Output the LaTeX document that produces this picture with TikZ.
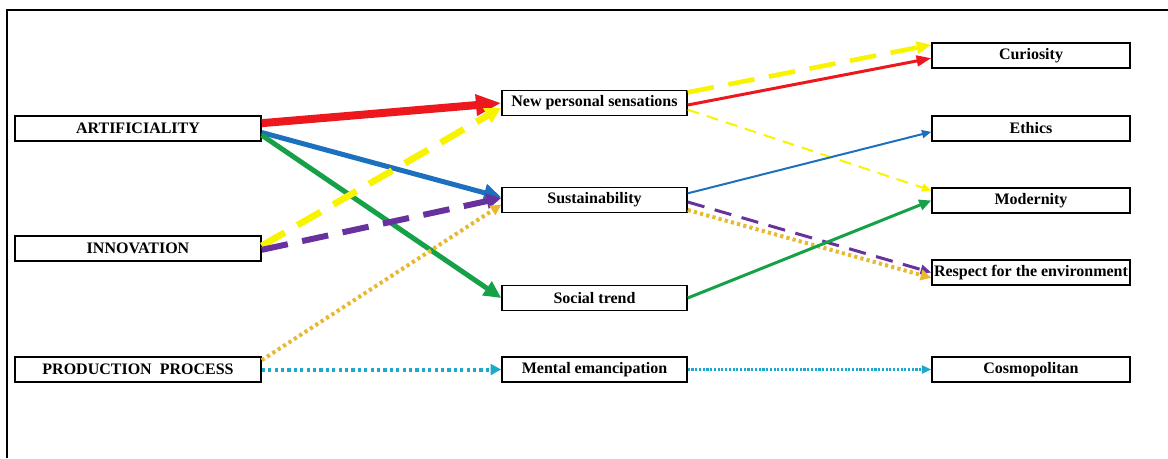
\documentclass[tikz,border=0pt]{standalone}
\usepackage{fontspec}
\setmainfont{Liberation Serif}
\usetikzlibrary{arrows.meta}

\definecolor{linkred}{RGB}{236,24,30}
\definecolor{linkblue}{RGB}{28,112,190}
\definecolor{linkgreen}{RGB}{22,160,72}
\definecolor{linkyellow}{RGB}{248,244,0}
\definecolor{linkpurple}{RGB}{104,50,158}
\definecolor{linkgold}{RGB}{232,184,48}
\definecolor{linkcyan}{RGB}{30,168,204}

\begin{document}
\begin{tikzpicture}[x=0.75pt,y=-0.75pt]
	% Setup the style for the boxes
	\tikzset{box style/.style={draw, line width=1.1pt,
			minimum height=18.75pt, inner sep=1pt,
			font=\bfseries\fontsize{12}{12}\selectfont},
		left box/.style={box style, minimum width=184.5pt},
		mid box/.style={box style, minimum width=138.75pt},
		right box/.style={box style, minimum width=148.5pt},
		tip/.style 2 args={-{Triangle[length=#1, width=#2]}},
		dash link/.style={dash pattern=on 20pt off 11pt},
		dot link/.style={dash pattern=on 2.4pt off 2.4pt}}
	
	\useasboundingbox (0,0) rectangle (1168,458);
	\draw[line width=1.1pt] (7,458) -- (7,10) -- (1168,10);
	
	\node[left box]  (a1) at (138,128.5)  {ARTIFICIALITY};
	\node[left box]  (a2) at (138,248.5)  {INNOVATION};
	\node[left box]  (a3) at (138,369.5)  {PRODUCTION\ \ PROCESS};
	
	\node[mid box]   (b1) at (594.5,103)  {New personal sensations};
	\node[mid box]   (b2) at (594.5,200)  {Sustainability};
	\node[mid box]   (b3) at (594.5,298)  {Social trend};
	\node[mid box]   (b4) at (594.5,369.5) {Mental emancipation};
	
	\node[right box] (c1) at (1031,55.5)  {Curiosity};
	\node[right box] (c2) at (1031,128.5) {Ethics};
	\node[right box] (c3) at (1031,200.5) {Modernity};
	\node[right box] (c4) at (1031,272.5) {Respect for the environment};
	\node[right box] (c5) at (1031,369.5) {Cosmopolitan};
	
	% first step
	\draw
	([yshift=4pt]a1.east)   edge[linkred, line width=6pt, tip={19pt}{15pt}]     (b1.west)
	([yshift=-3pt]a1.east)  edge[linkblue, line width=3.75pt, tip={13pt}{13pt}] ([yshift=2pt]b2.west)
	([yshift=-5pt]a1.east)  edge[linkgreen, line width=3.75pt, tip={13pt}{12pt}] (b3.west)
	([yshift=2pt]a2.east)   edge[linkyellow, line width=5pt, dash link, tip={12pt}{12pt}] ([yshift=-3.5pt]b1.west)
	([yshift=-1pt]a2.east)  edge[linkpurple, line width=4.5pt, dash link, tip={11pt}{11pt}] ([yshift=1.5pt]b2.west)
	([yshift=7pt]a3.east)   edge[linkgold, line width=3pt, dot link, tip={8pt}{8pt}] ([yshift=-3.5pt]b2.west)
	(a3.east)               edge[linkcyan, line width=3pt, dot link, tip={8pt}{8pt}] (b4.west);
	
	% second step
	\draw
	([yshift=8pt]b1.east)   edge[linkyellow, line width=3.5pt, dash link, tip={11pt}{9pt}] ([yshift=8pt]c1.west)
	([yshift=-1.5pt]b1.east) edge[linkred, line width=2.25pt, tip={11pt}{8pt}]  ([yshift=-2pt]c1.west)
	([yshift=-5pt]b1.east)  edge[linkyellow, line width=1.5pt, dash pattern=on 9pt off 6pt, tip={7pt}{6pt}] ([yshift=7.5pt]c3.west)
	([yshift=5pt]b2.east)   edge[linkblue, line width=1.5pt, tip={7pt}{6pt}]    ([yshift=-2.5pt]c2.west)
	([yshift=-1.5pt]b2.east) edge[linkpurple, line width=2.25pt, dash pattern=on 13pt off 8pt, tip={8pt}{7pt}] (c4.west)
	([yshift=-7.5pt]b2.east) edge[linkgold, line width=3pt, dot link, tip={8pt}{8pt}] ([yshift=-4pt]c4.west)
	(b3.east)               edge[linkgreen, line width=2.25pt, tip={9pt}{8pt}]  (c3.west)
	(b4.east)               edge[linkcyan, line width=1.6pt, dash pattern=on 1.6pt off 1.2pt, tip={7pt}{6pt}] (c5.west);
	
\end{tikzpicture}
\end{document}
